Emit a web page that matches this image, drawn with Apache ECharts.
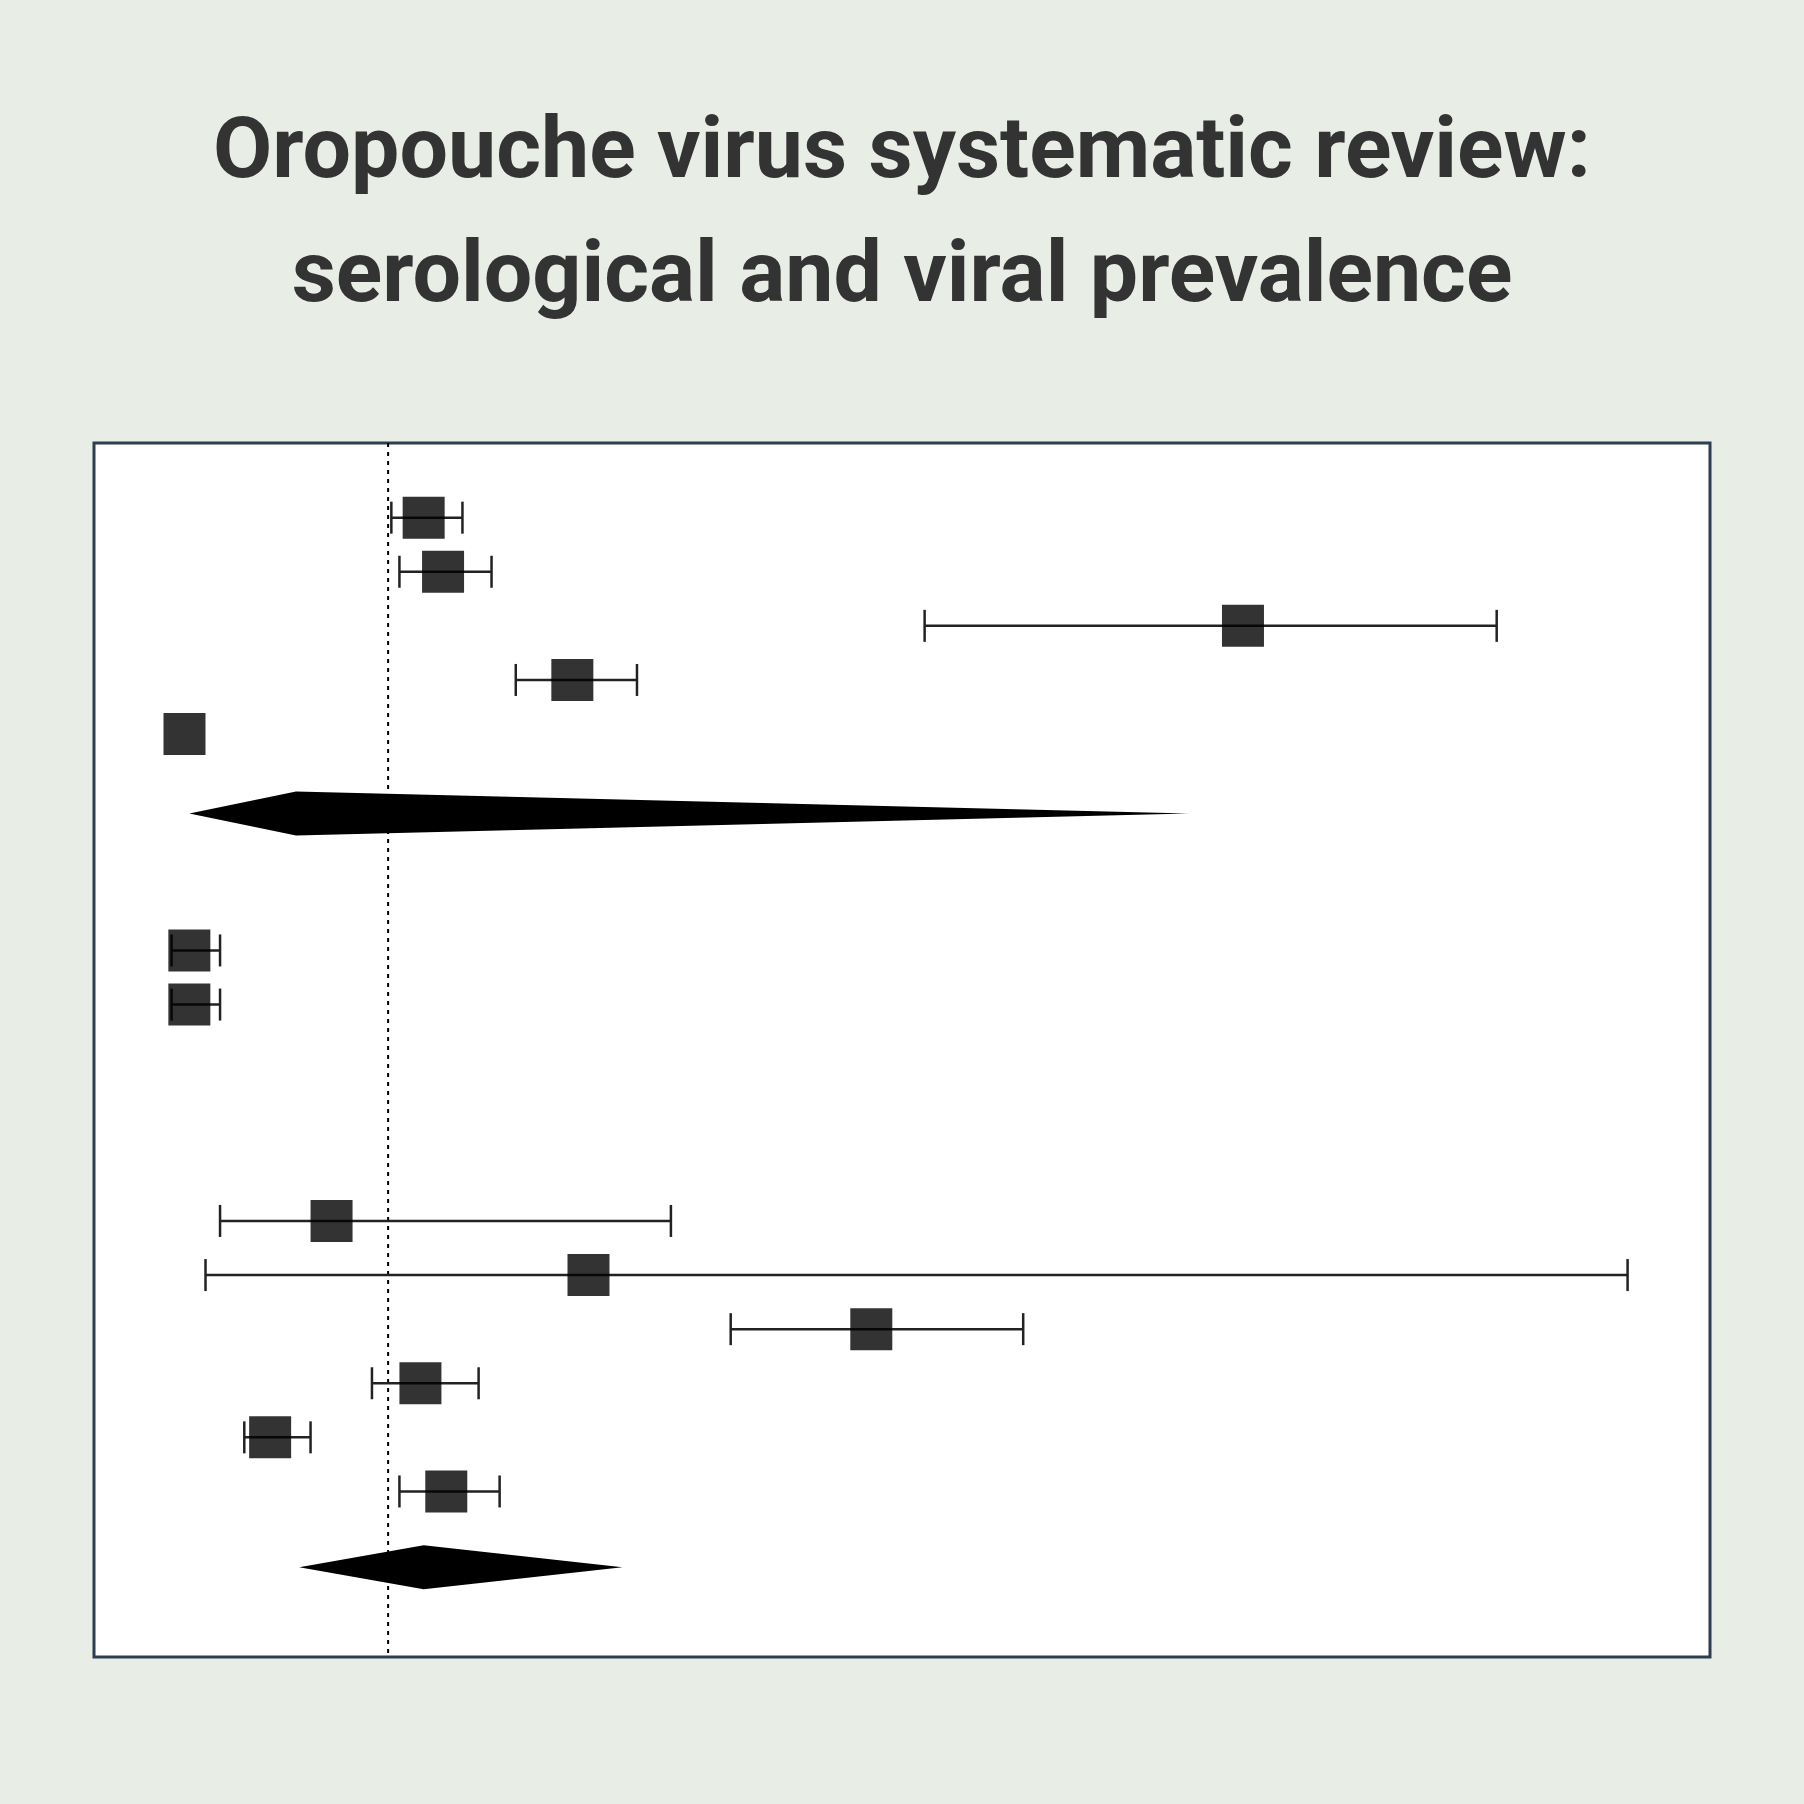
<!DOCTYPE html>
<html><head><meta charset="utf-8">
<script src="https://cdn.jsdelivr.net/npm/echarts@6/dist/echarts.min.js"></script>
<style>html,body{margin:0;background:#e8ede6}#c{width:1804px;height:1804px}</style></head>
<body><div id="c"></div><script>
const rows   = [1, 2, 3, 4, 5, 9, 10, 14, 15, 16, 17, 18, 19];
const est    = [20.4, 21.6, 71.1, 29.6, 5.6, 5.9, 5.9, 14.7, 30.6, 48.1, 20.2, 10.9, 21.8];
const lower  = [18.4, 18.9, 51.4, 26.1, null, 4.8, 4.8, 7.8, 6.9, 39.4, 17.2, 9.3, 18.9];
const upper  = [22.8, 24.6, 86.8, 33.6, null, 7.8, 7.8, 35.7, 94.9, 57.5, 23.8, 13.4, 25.1];
const pooledRow = [6.47, 20.4];
const pooledLo  = [5.9, 12.7];
const pooledEst = [12.5, 20.4];
const pooledHi  = [67.7, 32.7];
const refLine = 18.2;

const ciData = rows.map((r,i)=>[r, lower[i], upper[i]]).filter(d=>d[1]!=null);
const diaData = pooledRow.map((r,i)=>[r, pooledLo[i], pooledEst[i], pooledHi[i]]);
const chart = echarts.init(document.getElementById('c'));
chart.setOption({
  backgroundColor:'#e8ede6',
  title:{text:'Oropouche virus systematic review:\nserological and viral prevalence',left:'center',top:88,
    textStyle:{fontFamily:'Roboto',fontWeight:'bold',fontSize:86,color:'#333',lineHeight:124}},
  grid:{left:94,right:94,top:443,bottom:147,show:true,backgroundColor:'#fff',borderColor:'#2c3e50',borderWidth:3},
  xAxis:{type:'value',min:0,max:100,show:false},
  yAxis:{type:'value',min:-0.38,max:22.06,inverse:true,show:false},
  series:[
    {type:'line',data:[[refLine,-0.38],[refLine,22.06]],symbol:'none',silent:true,
      lineStyle:{type:[4,5],color:'#000',width:2},z:1},
    {type:'custom',data:ciData,encode:{x:[1,2],y:0},z:2,
      renderItem:(p,api)=>{const y=api.value(0);const a=api.coord([api.value(1),y]);const b=api.coord([api.value(2),y]);
        const h=16;const st={stroke:'#222',lineWidth:2.5};
        return {type:'group',children:[
          {type:'line',shape:{x1:a[0],y1:a[1],x2:b[0],y2:b[1]},style:st},
          {type:'line',shape:{x1:a[0],y1:a[1]-h,x2:a[0],y2:a[1]+h},style:st},
          {type:'line',shape:{x1:b[0],y1:b[1]-h,x2:b[0],y2:b[1]+h},style:st}]};}},
    {type:'scatter',data:rows.map((r,i)=>[est[i],r]),symbol:'rect',symbolSize:42,itemStyle:{color:'#000'},z:3},
    {type:'custom',data:diaData,encode:{x:[1,3],y:0},z:3,
      renderItem:(p,api)=>{const y=api.value(0);const l=api.coord([api.value(1),y]);const c=api.coord([api.value(2),y]);const r=api.coord([api.value(3),y]);
        const h=22;return {type:'polygon',shape:{points:[[l[0],l[1]],[c[0],c[1]-h],[r[0],r[1]],[c[0],c[1]+h]]},style:{fill:'#000'}};}}
  ]
});
</script></body></html>
